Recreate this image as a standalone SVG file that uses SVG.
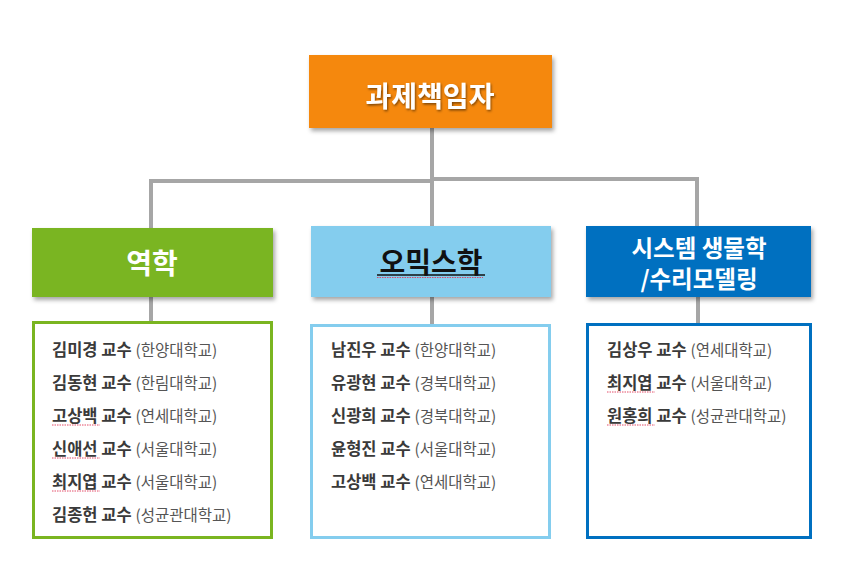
<svg xmlns="http://www.w3.org/2000/svg" width="842" height="566" viewBox="0 0 842 566">
<defs>
<filter id="sh" x="-10%" y="-20%" width="125%" height="150%">
<feDropShadow dx="2" dy="3" stdDeviation="2" flood-color="#000" flood-opacity="0.35"/>
</filter>
<filter id="ts" x="-10%" y="-20%" width="120%" height="150%">
<feDropShadow dx="1" dy="1.5" stdDeviation="0.8" flood-color="#000" flood-opacity="0.5"/>
</filter>
</defs>
<style>
.hd{font-family:"Noto Sans CJK KR","Noto Sans",sans-serif;font-weight:bold;text-anchor:middle;dominant-baseline:central}
.nm{font-family:"Noto Sans CJK KR","Noto Sans",sans-serif;font-size:16.5px;font-weight:bold;fill:#3a3a3a}
.af{font-size:15.5px;font-weight:normal;fill:#555}
.ln{stroke:#a6a6a6;stroke-width:4;fill:none}
.sq{stroke:#e03a5a;stroke-width:0.9;fill:none;stroke-dasharray:1.5 1}
</style>
<rect width="842" height="566" fill="#fff"/>
<g id="connectors">
<path class="ln" d="M432 128V228M151 229V181H432M432 179H697V228"/>
<path class="ln" d="M151 297V322M432 297V324M698 297V323"/>
</g>
<g id="pi">
<rect x="309" y="55" width="243" height="73" fill="#f5880f" filter="url(#sh)"/>
<text class="hd" x="430" y="95" font-size="28" fill="#fff" filter="url(#ts)">과제책임자</text>
</g>
<g id="epi">
<rect x="32" y="228" width="241" height="69" fill="#7ab520" filter="url(#sh)"/>
<text class="hd" x="152" y="262" font-size="28" fill="#fff">역학</text>
</g>
<g id="omics">
<rect x="311" y="226" width="240" height="71" fill="#84cdee" filter="url(#sh)"/>
<text class="hd" x="431" y="261" font-size="28" fill="#111">오믹스학</text>
<line x1="377" y1="275" x2="485" y2="275" stroke="#111" stroke-width="1.5"/>
<path class="sq" d="M377 277.5H483"/>
</g>
<g id="sysbio">
<rect x="586" y="226" width="225" height="71" fill="#0070c0" filter="url(#sh)"/>
<text class="hd" x="699" y="247" font-size="23.5" fill="#fff">시스템 생물학</text>
<text class="hd" x="699" y="278" font-size="23.5" fill="#fff">/수리모델링</text>
</g>
<g id="epi-members">
<rect x="33.5" y="322.5" width="238" height="215" fill="#fff" stroke="#7ab520" stroke-width="3"/>
<text class="nm" x="52" y="356">김미경 교수 <tspan class="af">(한양대학교)</tspan></text>
<text class="nm" x="52" y="389">김동현 교수 <tspan class="af">(한림대학교)</tspan></text>
<text class="nm" x="52" y="422">고상백 교수 <tspan class="af">(연세대학교)</tspan></text>
<text class="nm" x="52" y="455">신애선 교수 <tspan class="af">(서울대학교)</tspan></text>
<text class="nm" x="52" y="488">최지엽 교수 <tspan class="af">(서울대학교)</tspan></text>
<text class="nm" x="52" y="521">김종헌 교수 <tspan class="af">(성균관대학교)</tspan></text>
<path class="sq" d="M52 425H100M52 458H100M52 491H100"/>
</g>
<g id="omics-members">
<rect x="311.5" y="325.5" width="238" height="212" fill="#fff" stroke="#84cdee" stroke-width="3"/>
<text class="nm" x="331" y="356">남진우 교수 <tspan class="af">(한양대학교)</tspan></text>
<text class="nm" x="331" y="389">유광현 교수 <tspan class="af">(경북대학교)</tspan></text>
<text class="nm" x="331" y="422">신광희 교수 <tspan class="af">(경북대학교)</tspan></text>
<text class="nm" x="331" y="455">윤형진 교수 <tspan class="af">(서울대학교)</tspan></text>
<text class="nm" x="331" y="488">고상백 교수 <tspan class="af">(연세대학교)</tspan></text>
</g>
<g id="sysbio-members">
<rect x="587.5" y="324.5" width="223" height="213" fill="#fff" stroke="#0070c0" stroke-width="3"/>
<text class="nm" x="607" y="356">김상우 교수 <tspan class="af">(연세대학교)</tspan></text>
<text class="nm" x="607" y="389">최지엽 교수 <tspan class="af">(서울대학교)</tspan></text>
<text class="nm" x="607" y="422">원홍희 교수 <tspan class="af">(성균관대학교)</tspan></text>
<path class="sq" d="M607 392H655M607 425H655"/>
</g>
</svg>
